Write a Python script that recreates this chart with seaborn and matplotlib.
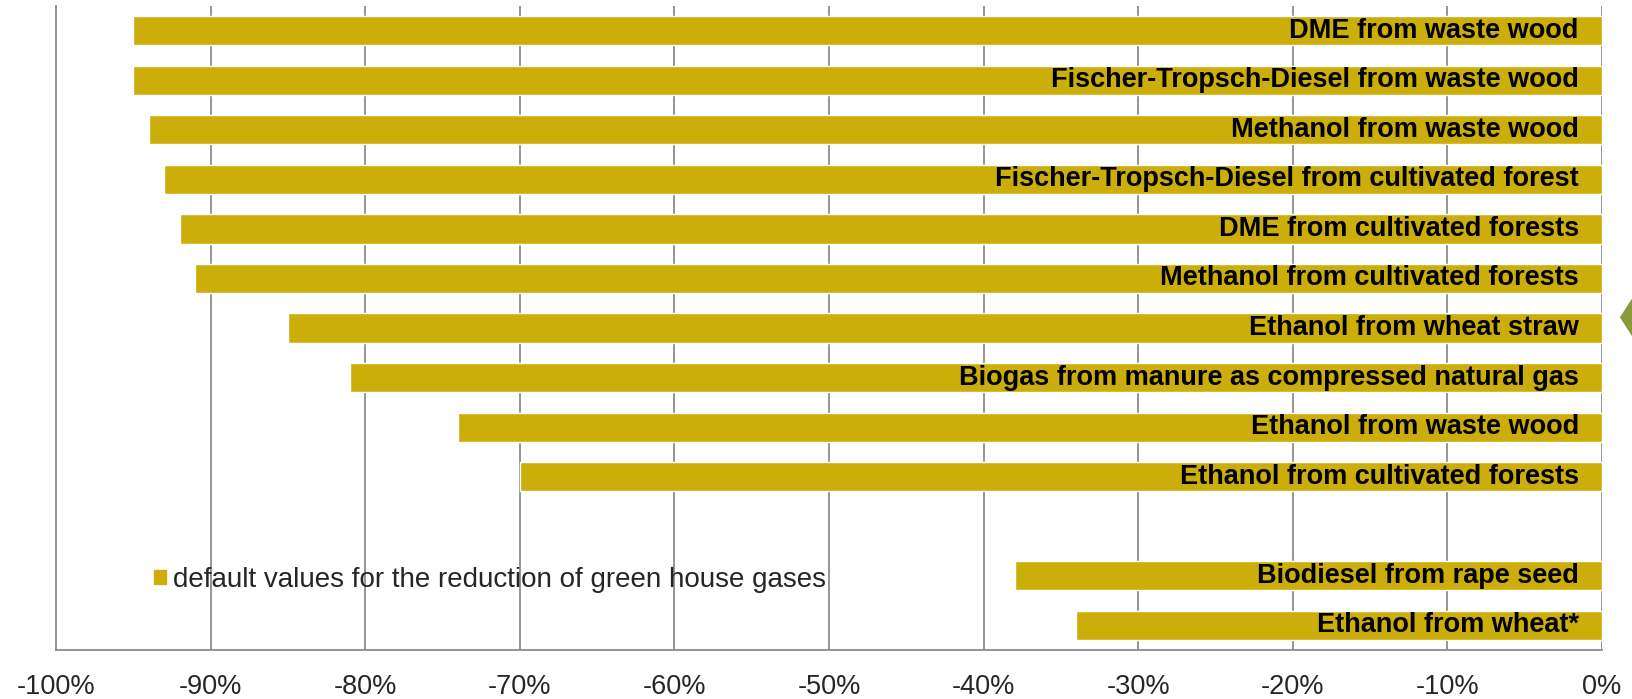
import matplotlib
matplotlib.use('Agg')
import matplotlib.pyplot as plt
import matplotlib.patches as mpatches
import seaborn as sns
import pandas as pd

# Kategorien (von oben nach unten), leerer Platz als Trenner
fuels = ['DME from waste wood',
         'Fischer-Tropsch-Diesel from waste wood',
         'Methanol from waste wood',
         'Fischer-Tropsch-Diesel from cultivated forest',
         'DME from cultivated forests',
         'Methanol from cultivated forests',
         'Ethanol from wheat straw',
         'Biogas from manure as compressed natural gas',
         'Ethanol from waste wood',
         'Ethanol from cultivated forests',
         'Biodiesel from rape seed',
         'Ethanol from wheat*']
reduction = [-95, -95, -94, -93, -92, -91, -85, -81, -74, -70, -38, -34]
order = fuels[:10] + [' '] + fuels[10:]
x_ticks = list(range(-100, 1, 10))
legend_label = 'default values for the reduction of green house gases'

bar_color = '#CCAE0A'
grid_color = '#8C8C8C'

df = pd.DataFrame({'fuel': fuels, 'reduction': reduction})

sns.set_style('white')
plt.rcParams['font.family'] = ['Liberation Sans', 'DejaVu Sans']

fig = plt.figure(figsize=(16.33, 6.99), dpi=100)
ax = fig.add_axes([0.0343, 0.070, 0.9467, 0.9214])

# Gitterlinien zuerst (hinter den Balken)
for v in x_ticks[1:]:
    ax.axvline(v, color=grid_color, linewidth=1.3, zorder=0.5)

sns.barplot(data=df, x='reduction', y='fuel', order=order, color=bar_color,
            saturation=1, width=0.59, ax=ax, orient='h')
for p in ax.patches:
    p.set_zorder(3)

# Beschriftung in den Balken
for name, val in zip(fuels, reduction):
    ax.text(-1.5, order.index(name), name, ha='right', va='center',
            fontsize=19.5, fontweight='bold', color='black', zorder=4)

ax.set_xlim(-100, 0)
ax.set_ylim(len(order) - 0.5, -0.5)
ax.set_xticks(x_ticks)
ax.set_xticklabels([f'{v}%' for v in x_ticks], fontsize=19.5)
ax.set_yticks([])
ax.set_xlabel('')
ax.set_ylabel('')
ax.tick_params(axis='x', direction='in', length=6, color=grid_color, pad=17)

for s in ['top', 'right']:
    ax.spines[s].set_visible(False)
for s in ['left', 'bottom']:
    ax.spines[s].set_color(grid_color)
    ax.spines[s].set_linewidth(1.3)

handle = mpatches.Patch(color=bar_color, label=legend_label)
ax.legend(handles=[handle], loc='center left', bbox_to_anchor=(0.047, 0.109),
          frameon=False, fontsize=20, handlelength=0.45, handleheight=0.45,
          handletextpad=0.25)

# kleiner grüner Pfeil am rechten Rand
fig.patches.append(mpatches.Polygon([[1.0, 0.575], [0.992, 0.546], [1.0, 0.517]],
                                    closed=True, transform=fig.transFigure,
                                    facecolor='#8A9A3A', edgecolor='none'))

plt.savefig('out.png', dpi=100)
